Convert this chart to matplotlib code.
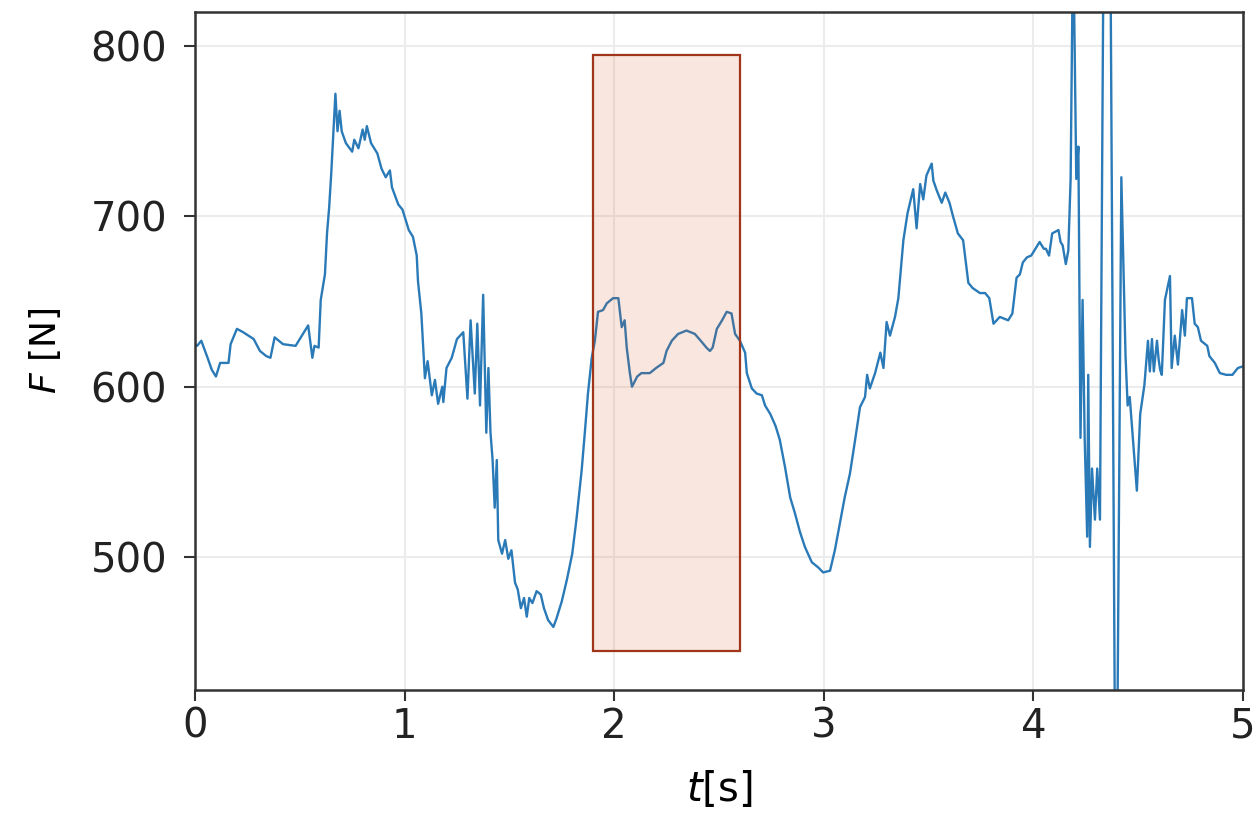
import matplotlib
matplotlib.use("Agg")
import matplotlib.pyplot as plt
from matplotlib.patches import Rectangle

# czas [s] i siła [N]
t = [0.00, 0.01, 0.03, 0.06, 0.08, 0.10, 0.12, 0.16, 0.17, 0.20, 0.23, 0.28,
     0.31, 0.34, 0.36, 0.38, 0.42, 0.48, 0.51, 0.54, 0.56, 0.57, 0.59, 0.60,
     0.62, 0.63, 0.64, 0.65, 0.67, 0.68, 0.69, 0.70, 0.72, 0.75, 0.76, 0.78,
     0.80, 0.81, 0.82, 0.84, 0.87, 0.89, 0.91, 0.93, 0.94, 0.97, 0.99, 1.02,
     1.04, 1.058, 1.064, 1.08, 1.097, 1.11, 1.13, 1.145, 1.16, 1.18, 1.185,
     1.20, 1.225, 1.25, 1.28, 1.30, 1.315, 1.335, 1.347, 1.36, 1.375, 1.39,
     1.40, 1.41, 1.42, 1.43, 1.44, 1.447, 1.465, 1.48, 1.495, 1.51, 1.527,
     1.54, 1.555, 1.57, 1.583, 1.595, 1.61, 1.63, 1.65, 1.665, 1.685, 1.71,
     1.725, 1.75, 1.775, 1.80, 1.82, 1.845, 1.86, 1.875, 1.893, 1.908, 1.923,
     1.947, 1.965, 1.995, 2.02, 2.036, 2.05, 2.06, 2.075, 2.085, 2.11, 2.13,
     2.17, 2.20, 2.235, 2.25, 2.275, 2.305, 2.345, 2.385, 2.42, 2.44, 2.457,
     2.47, 2.49, 2.515, 2.537, 2.56, 2.577, 2.60, 2.625, 2.633, 2.657, 2.68,
     2.705, 2.72, 2.745, 2.77, 2.79, 2.815, 2.84, 2.862, 2.886, 2.91, 2.943,
     2.973, 2.997, 3.03, 3.053, 3.077, 3.10, 3.125, 3.15, 3.173, 3.197, 3.207,
     3.22, 3.245, 3.27, 3.285, 3.30, 3.316, 3.34, 3.356, 3.38, 3.40, 3.427,
     3.443, 3.46, 3.475, 3.49, 3.515, 3.523, 3.54, 3.563, 3.58, 3.60, 3.617,
     3.64, 3.665, 3.69, 3.71, 3.745, 3.77, 3.79, 3.81, 3.84, 3.88, 3.90, 3.92,
     3.936, 3.95, 3.97, 3.99, 4.01, 4.03, 4.05, 4.06, 4.075, 4.09, 4.12, 4.13,
     4.14, 4.155, 4.167, 4.178, 4.19, 4.205, 4.215, 4.225, 4.235, 4.245,
     4.257, 4.262, 4.27, 4.28, 4.294, 4.305, 4.318, 4.337, 4.366, 4.39, 4.40,
     4.42, 4.44, 4.45, 4.46, 4.475, 4.494, 4.51, 4.53, 4.547, 4.556, 4.566,
     4.575, 4.59, 4.598, 4.605, 4.613, 4.628, 4.652, 4.66, 4.675, 4.69, 4.71,
     4.723, 4.733, 4.757, 4.77, 4.785, 4.80, 4.83, 4.84, 4.866, 4.89, 4.92,
     4.95, 4.976, 5.00]
F = [625, 624, 627, 617, 610, 606, 614, 614, 625, 634, 632, 628,
     621, 618, 617, 629, 625, 624, 630, 636, 617, 624, 623, 651,
     666, 690, 705, 725, 772, 750, 762, 750, 743, 738, 745, 740,
     751, 745, 753, 743, 737, 728, 723, 727, 717, 707, 704, 692,
     688, 677, 662, 643, 605, 615, 595, 604, 590, 600, 591,
     611, 617, 628, 632, 593, 639, 596, 637, 589, 654, 573,
     611, 573, 557, 529, 557, 510, 502, 510, 499, 504, 485,
     481, 470, 476, 465, 476, 473, 480, 478, 470, 463, 459,
     464, 474, 487, 502, 522, 551, 573, 596, 617, 627, 644,
     645, 649, 652, 652, 635, 639, 623, 608, 600, 606, 608,
     608, 611, 614, 621, 627, 631, 633, 631, 626, 623, 621,
     623, 634, 639, 644, 643, 631, 627, 620, 608, 599, 596,
     595, 589, 584, 577, 569, 553, 535, 526, 515, 506, 497,
     494, 491, 492, 504, 520, 535, 549, 569, 588, 594, 607,
     599, 608, 620, 611, 638, 630, 641, 652, 686, 702, 716,
     693, 719, 710, 724, 731, 721, 715, 708, 714, 708, 700,
     690, 686, 661, 658, 655, 655, 652, 637, 641, 639, 643, 664,
     666, 673, 676, 677, 681, 685, 681, 681, 677, 690, 692, 685,
     683, 672, 680, 722, 870, 722, 741, 570, 651, 570,
     512, 607, 506, 552, 522, 552, 522, 900, 900, 380, 380,
     723, 618, 589, 594, 570, 539, 584, 601, 627, 609, 628,
     609, 627, 616, 610, 607, 651, 665, 611, 630, 613, 645,
     630, 652, 652, 637, 635, 627, 624, 618, 614, 608, 607,
     607, 611, 612]

# zaznaczony przedział
okno_t = (1.9, 2.6)
okno_F = (445, 795)

fig = plt.figure(figsize=(12.58, 8.21), dpi=100)
ax = fig.add_axes([0.155, 0.1596, 0.833, 0.8258])

ax.plot(t, F, color='#2a7ab8', lw=1.7)
ax.add_patch(Rectangle((okno_t[0], okno_F[0]), okno_t[1] - okno_t[0],
                       okno_F[1] - okno_F[0], facecolor=(0.85, 0.33, 0.10, 0.14),
                       edgecolor='#a0351a', lw=1.6, zorder=3))

ax.set_xlim(0, 5)
ax.set_ylim(422, 820)
ax.set_xticks([0, 1, 2, 3, 4, 5])
ax.set_yticks([500, 600, 700, 800])
ax.grid(True, color='#ececec', lw=1.5)
ax.set_axisbelow(True)

for s in ax.spines.values():
    s.set_color('#333333')
    s.set_linewidth(1.8)
ax.tick_params(axis='both', labelsize=29, length=8, width=1.5, color='#333333',
               labelcolor='#222222')
ax.tick_params(axis='x', pad=4)
ax.tick_params(axis='y', pad=12)
ax.set_xlabel('$t$[s]', fontsize=29, labelpad=16)
ax.set_ylabel('$F$ [N]', fontsize=26, labelpad=20)

plt.savefig('out.png', dpi=100)
plt.close()
